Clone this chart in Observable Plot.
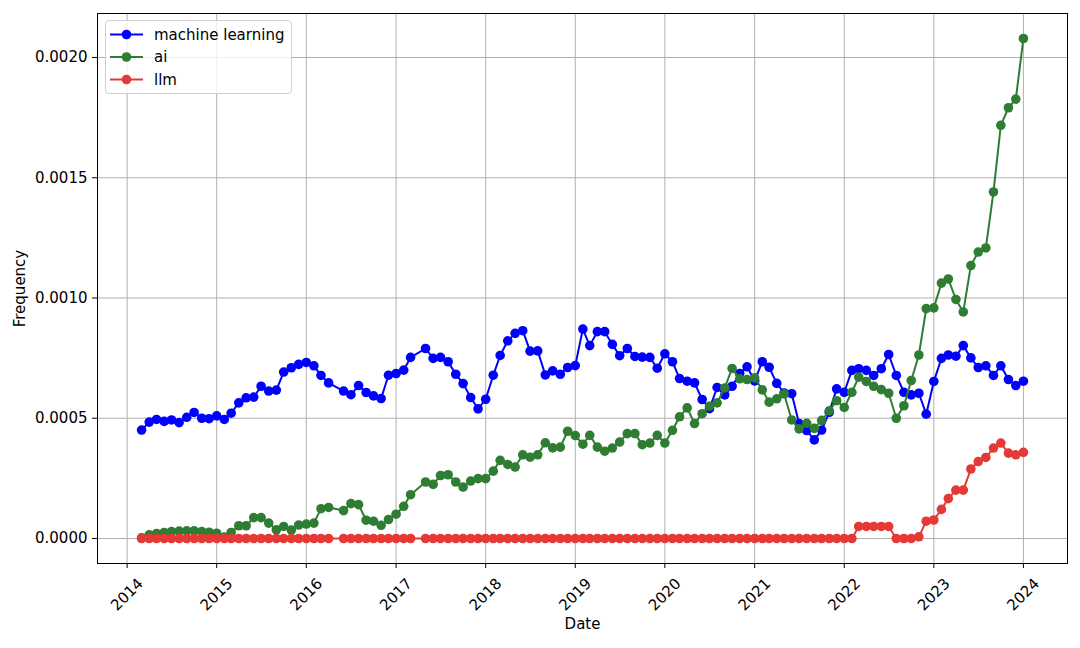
<!DOCTYPE html>
<html>
<head>
<meta charset="utf-8">
<script src="https://cdn.jsdelivr.net/npm/d3@7"></script>
<script src="https://cdn.jsdelivr.net/npm/@observablehq/plot@0.6"></script>
<style>
  html, body { margin: 0; padding: 0; background: #fff; }
  #wrap { position: relative; width: 1080px; height: 648px; font-family: "DejaVu Sans", sans-serif; }
  #legend { position: absolute; left: 105px; top: 20px; width: 185px; height: 72px;
            border: 1px solid #d0d0d0; border-radius: 4px; background: rgba(255,255,255,0.8); }
</style>
</head>
<body>
<div id="wrap"></div>
<script>
// ---- data ----
const months = [
  "2014-03","2014-04","2014-05","2014-06","2014-07","2014-08","2014-09","2014-10","2014-11","2014-12",
  "2015-01","2015-02","2015-03","2015-04","2015-05","2015-06","2015-07","2015-08","2015-09","2015-10","2015-11","2015-12",
  "2016-01","2016-02","2016-03","2016-04","2016-06","2016-07","2016-08","2016-09","2016-10","2016-11","2016-12",
  "2017-01","2017-02","2017-03","2017-05","2017-06","2017-07","2017-08","2017-09","2017-10","2017-11","2017-12",
  "2018-01","2018-02","2018-03","2018-04","2018-05","2018-06","2018-07","2018-08","2018-09","2018-10","2018-11","2018-12",
  "2019-01","2019-02","2019-03","2019-04","2019-05","2019-06","2019-07","2019-08","2019-09","2019-10","2019-11","2019-12",
  "2020-01","2020-02","2020-03","2020-04","2020-05","2020-06","2020-07","2020-08","2020-09","2020-10","2020-11","2020-12",
  "2021-01","2021-02","2021-03","2021-04","2021-05","2021-06","2021-07","2021-08","2021-09","2021-10","2021-11","2021-12",
  "2022-01","2022-02","2022-03","2022-04","2022-05","2022-06","2022-07","2022-08","2022-09","2022-10","2022-11","2022-12",
  "2023-01","2023-02","2023-03","2023-04","2023-05","2023-06","2023-07","2023-08","2023-09","2023-10","2023-11","2023-12",
  "2024-01"
];

const machineLearning = [
  0.000451,0.000484,0.000495,0.000487,0.000493,0.000482,0.000504,0.000524,0.000500,0.000498,
  0.000510,0.000495,0.000521,0.000564,0.000585,0.000588,0.000633,0.000613,0.000617,0.000692,0.000710,0.000724,
  0.000732,0.000718,0.000678,0.000647,0.000613,0.000598,0.000636,0.000607,0.000593,0.000582,0.000679,
  0.000686,0.000700,0.000753,0.000790,0.000749,0.000753,0.000735,0.000683,0.000644,0.000586,0.000539,
  0.000579,0.000679,0.000761,0.000822,0.000853,0.000864,0.000779,0.000780,0.000680,0.000697,0.000683,0.000711,
  0.000719,0.000871,0.000802,0.000860,0.000860,0.000807,0.000760,0.000790,0.000757,0.000754,0.000753,0.000708,
  0.000768,0.000735,0.000665,0.000654,0.000647,0.000578,0.000540,0.000628,0.000597,0.000633,0.000686,0.000714,
  0.000655,0.000735,0.000712,0.000645,0.000605,0.000602,0.000478,0.000449,0.000410,0.000451,0.000525,0.000622,
  0.000608,0.000699,0.000706,0.000699,0.000678,0.000706,0.000765,0.000678,0.000608,0.000597,0.000604,0.000517,
  0.000653,0.000749,0.000763,0.000758,0.000802,0.000751,0.000711,0.000718,0.000678,0.000718,0.000661,0.000636,
  0.000654
];

const ai = [
  0.000003,0.000015,0.000021,0.000025,0.000029,0.000031,0.000032,0.000032,0.000029,0.000026,
  0.000022,0.000006,0.000025,0.000053,0.000053,0.000087,0.000087,0.000064,0.000036,0.000050,0.000035,0.000056,
  0.000060,0.000064,0.000124,0.000129,0.000116,0.000145,0.000141,0.000076,0.000072,0.000055,0.000079,
  0.000101,0.000134,0.000182,0.000235,0.000225,0.000262,0.000265,0.000235,0.000214,0.000239,0.000249,
  0.000249,0.000280,0.000325,0.000308,0.000297,0.000348,0.000338,0.000348,0.000398,0.000377,0.000380,0.000446,
  0.000428,0.000392,0.000429,0.000380,0.000363,0.000376,0.000401,0.000436,0.000436,0.000390,0.000397,0.000429,
  0.000397,0.000450,0.000506,0.000543,0.000478,0.000519,0.000550,0.000564,0.000626,0.000707,0.000664,0.000661,
  0.000668,0.000618,0.000567,0.000581,0.000601,0.000493,0.000456,0.000479,0.000458,0.000491,0.000531,0.000573,
  0.000545,0.000608,0.000671,0.000653,0.000633,0.000619,0.000604,0.000500,0.000552,0.000657,0.000763,0.000956,
  0.000959,0.001062,0.001079,0.000994,0.000942,0.001135,0.001191,0.001208,0.001441,0.001718,0.001791,0.001827,
  0.002079
];

const llm = [
  0,0,0,0,0,0,0,0,0,0,
  0,0,0,0,0,0,0,0,0,0,0,0,
  0,0,0,0,0,0,0,0,0,0,0,
  0,0,0,0,0,0,0,0,0,0,0,
  0,0,0,0,0,0,0,0,0,0,0,0,
  0,0,0,0,0,0,0,0,0,0,0,0,
  0,0,0,0,0,0,0,0,0,0,0,0,
  0,0,0,0,0,0,0,0,0,0,0,0,
  0,0,0.000050,0.000050,0.000050,0.000050,0.000050,0,0,0,0.000007,0.000072,
  0.000077,0.000121,0.000166,0.000201,0.000201,0.000289,0.000320,0.000337,0.000376,0.000397,0.000355,0.000348,
  0.000358
];

const seriesNames = ["machine learning", "ai", "llm"];
const seriesColors = ["#0000ff", "#2e7d32", "#e53935"];
const yearTicks = [2014,2015,2016,2017,2018,2019,2020,2021,2022,2023,2024];
const yTicks = [0, 0.0005, 0.0010, 0.0015, 0.0020];

// ---- build rows ----
const parse = d3.utcParse("%Y-%m");
const dates = months.map(parse);
const seriesValues = [machineLearning, ai, llm];
const rows = seriesValues.map((vals, s) => vals.map((v, i) => ({date: dates[i], value: v, series: seriesNames[s]})));
const tickDates = yearTicks.map(y => new Date(Date.UTC(y, 0, 1)));

const first = dates[0], last = dates[dates.length - 1];
const pad = (last - first) * 0.05;
const ymax = d3.max(seriesValues.flat()), ymin = 0;
const ypad = (ymax - ymin) * 0.05;

const marks = [
  Plot.gridX(tickDates, {stroke: "#b0b0b0", strokeOpacity: 1, strokeWidth: 1}),
  Plot.gridY(yTicks, {stroke: "#b0b0b0", strokeOpacity: 1, strokeWidth: 1})
];
rows.forEach((r, s) => {
  marks.push(Plot.line(r, {x: "date", y: "value", stroke: seriesColors[s], strokeWidth: 2}));
  marks.push(Plot.dot(r, {x: "date", y: "value", fill: seriesColors[s], r: 4.8, stroke: "none"}));
});
marks.push(
  Plot.frame({stroke: "#000", strokeWidth: 1}),
  Plot.axisX(tickDates, {tickFormat: "%Y", tickSize: 5, tickRotate: -45, textAnchor: "middle",
    lineAnchor: "middle", tickPadding: 26, label: null, fontSize: 15}),
  Plot.axisY(yTicks, {tickFormat: d => d.toFixed(4), tickSize: 5, tickPadding: 5, label: null, fontSize: 15}),
  Plot.text(["Date"], {frameAnchor: "bottom", dy: 61, lineAnchor: "middle", text: d => d, fontSize: 15}),
  Plot.text(["Frequency"], {frameAnchor: "left", dx: -77, rotate: -90, lineAnchor: "middle", textAnchor: "middle", text: d => d, fontSize: 15})
);

const chart = Plot.plot({
  width: 1080, height: 648,
  marginLeft: 97, marginRight: 13, marginTop: 13, marginBottom: 85,
  style: {fontFamily: "DejaVu Sans", fontSize: "15px", color: "#000", background: "#fff"},
  x: {type: "utc", domain: [new Date(+first - pad), new Date(+last + pad)]},
  y: {domain: [ymin - ypad, ymax + ypad]},
  marks
});

const wrap = document.getElementById("wrap");
wrap.appendChild(chart);

// ---- legend ----
const legend = d3.select(wrap).append("div").attr("id", "legend");
const lsvg = legend.append("svg").attr("width", 185).attr("height", 72)
  .style("font-family", "DejaVu Sans").style("font-size", "15px");
seriesNames.forEach((name, i) => {
  const y = 13.5 + i * 22.5;
  lsvg.append("line").attr("x1", 4).attr("x2", 37).attr("y1", y).attr("y2", y)
    .attr("stroke", seriesColors[i]).attr("stroke-width", 2);
  lsvg.append("circle").attr("cx", 20.5).attr("cy", y).attr("r", 4.8).attr("fill", seriesColors[i]);
  lsvg.append("text").attr("x", 48).attr("y", y).attr("dy", "0.35em").attr("fill", "#000").text(name);
});
</script>
</body>
</html>
